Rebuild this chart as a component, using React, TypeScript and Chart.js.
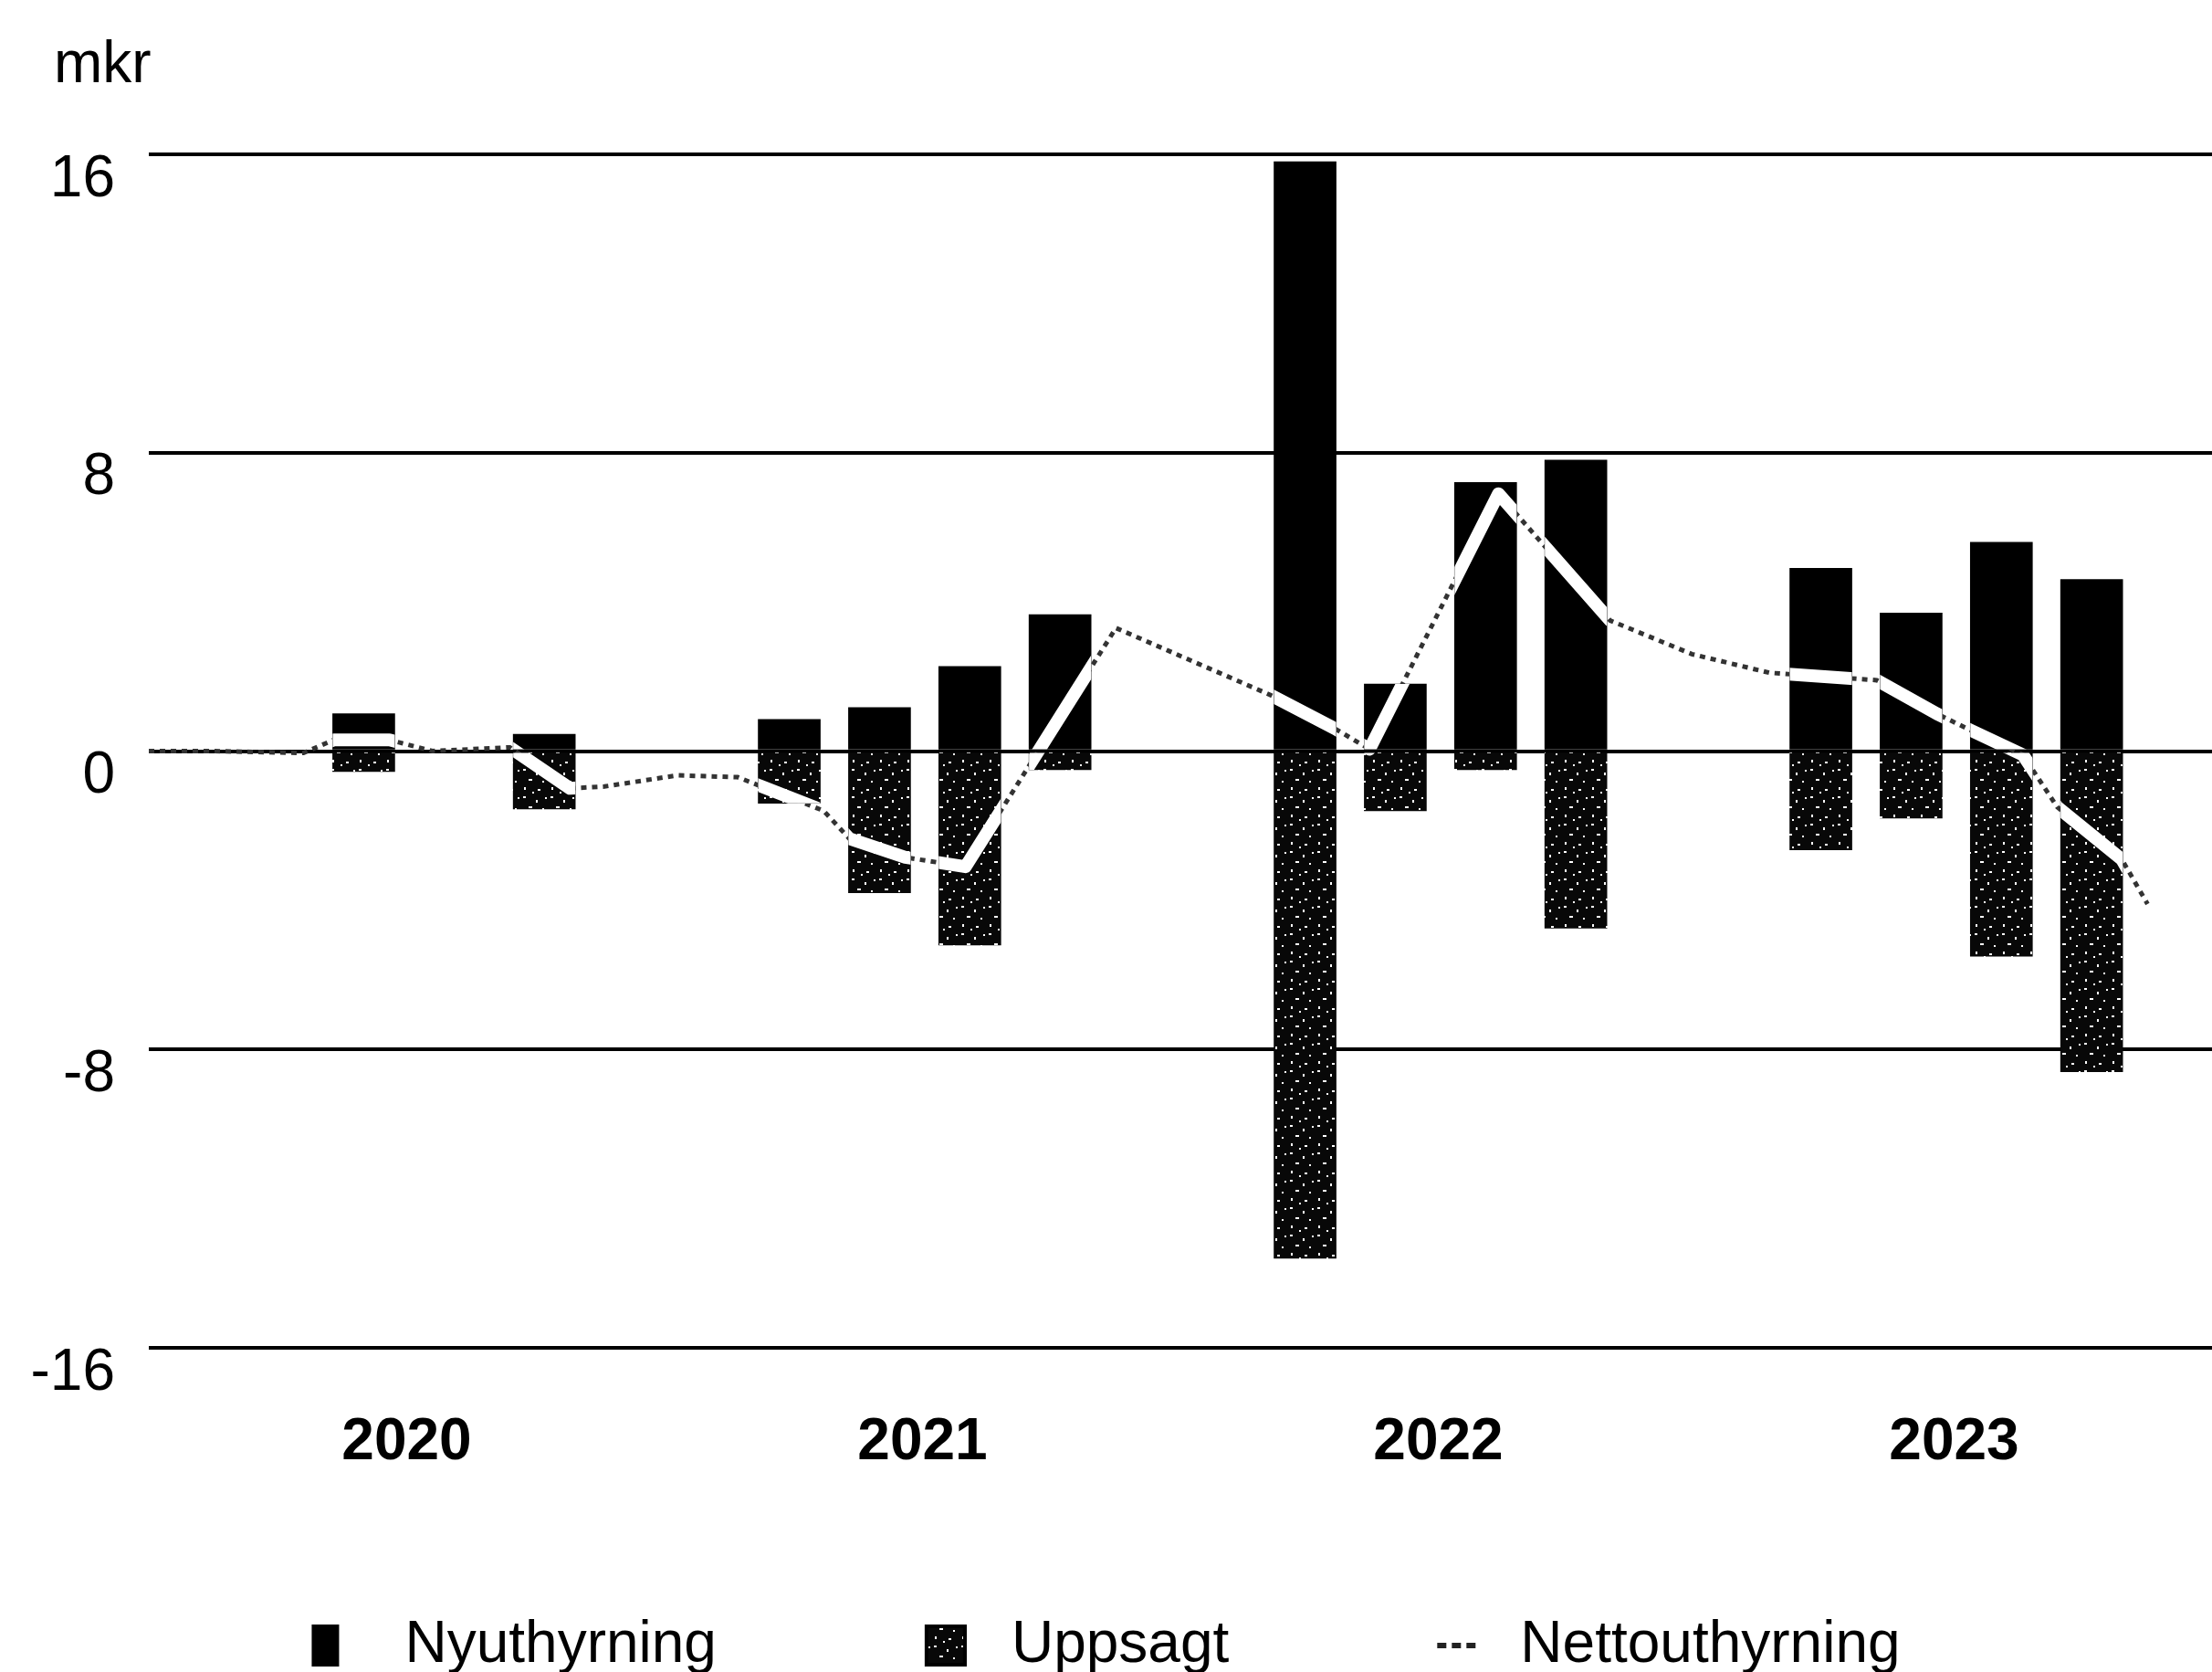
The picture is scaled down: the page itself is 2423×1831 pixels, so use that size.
import React, { useEffect, useRef } from 'react';
import { Chart, registerables } from 'chart.js';

Chart.register(...registerables);

// ---- data ----
const years = ['2020', '2021', '2022', '2023'];
// month within each year where the quarter's bar is placed
const quarterMonth = [2.9, 5.0, 7.1, 9.2];
const nyuthyrning = [null, 1.0, null, 0.45, 0.85, 1.17, 2.27, 3.66, 15.8, 1.8, 7.2, 7.8, 4.9, 3.7, 5.6, 4.6];
const uppsagt = [null, -0.55, null, -1.55, -1.4, -3.8, -5.2, -0.5, -13.6, -1.6, -0.5, -4.75, -2.65, -1.8, -5.5, -8.6];
// net line (month from start of 2020, value)
const nettoMonth = [0, 1.4, 3.6, 4.3, 5.6, 6.6, 8.4, 9.8, 10.6, 12.3, 13.7, 15.7, 16.3, 17.6, 19.0, 22.5, 26.1, 27.6, 28.4, 31.4, 32.7, 34.0, 35.9, 37.7, 40.2, 41.6, 42.4, 43.6, 44.4, 45.9, 46.5];
const nettoValue = [0, 0, -0.05, 0.3, 0.3, 0.0, 0.1, -1.0, -0.95, -0.65, -0.7, -1.6, -2.35, -2.85, -3.1, 3.3, 1.5, 0.6, 0.05, 6.9, 5.2, 3.5, 2.6, 2.1, 1.9, 1.0, 0.55, -0.1, -1.5, -2.9, -4.1];
const yTicks = [-16, -8, 0, 8, 16];
const yUnit = 'mkr';
const seriesNames = ['Nyuthyrning', 'Uppsagt', 'Nettouthyrning'];

const FONT = '"Liberation Sans", Arial, sans-serif';

function makeSpecklePattern(): CanvasPattern | string {
  const c = document.createElement('canvas');
  c.width = 30;
  c.height = 30;
  const g = c.getContext('2d');
  if (!g) return '#111';
  g.fillStyle = '#080808';
  g.fillRect(0, 0, 30, 30);
  g.fillStyle = '#ffffff';
  const blobs = [[3, 2, 3, 2], [17, 6, 2, 3], [9, 13, 4, 2], [24, 15, 2, 2], [4, 22, 2, 3], [19, 24, 3, 2], [13, 27, 2, 2], [27, 3, 2, 2]];
  blobs.forEach(([x, y, w, h]) => g.fillRect(x, y, w, h));
  const p = g.createPattern(c, 'repeat');
  return p || '#111';
}

export default function App() {
  const ref = useRef<HTMLCanvasElement | null>(null);

  useEffect(() => {
    if (!ref.current) return;
    const speckle = makeSpecklePattern();

    const barPoints = (vals: (number | null)[]) =>
      vals
        .map((v, i) => ({ x: Math.floor(i / 4) * 12 + quarterMonth[i % 4], y: v }))
        .filter((p) => p.y !== null);

    const netOverlay = {
      id: 'netOverlay',
      afterDatasetsDraw(chart: any) {
        const ctx = chart.ctx;
        const pts = chart.getDatasetMeta(2).data;
        ctx.save();
        ctx.beginPath();
        [0, 1].forEach((di) =>
          chart.getDatasetMeta(di).data.forEach((bar: any) => {
            const { x, y, base, width } = bar.getProps(['x', 'y', 'base', 'width'], true);
            if (!isFinite(y)) return;
            ctx.rect(x - width / 2, Math.min(y, base), width, Math.abs(base - y));
          })
        );
        ctx.clip();
        ctx.beginPath();
        pts.forEach((p: any, i: number) => (i ? ctx.lineTo(p.x, p.y) : ctx.moveTo(p.x, p.y)));
        ctx.strokeStyle = '#ffffff';
        ctx.lineWidth = 14;
        ctx.lineJoin = 'round';
        ctx.lineCap = 'round';
        ctx.stroke();
        ctx.restore();
      },
    };

    const unitAndLegend = {
      id: 'unitAndLegend',
      afterDraw(chart: any) {
        const { ctx, chartArea, width, height } = chart;
        ctx.save();
        ctx.font = `64px ${FONT}`;
        ctx.fillStyle = '#000';
        ctx.textAlign = 'left';
        ctx.textBaseline = 'alphabetic';
        ctx.fillText(yUnit, chartArea.left - 104, chartArea.top - 79);

        // legend
        const iconW = [30, 46, 48];
        const iconGap = [72, 49, 43];
        const itemGap = 228;
        const textW = seriesNames.map((t) => ctx.measureText(t).width);
        const total = seriesNames.reduce((s, _, i) => s + iconW[i] + iconGap[i] + textW[i], 0) + itemGap * (seriesNames.length - 1);
        let x = width / 2 - total / 2;
        const cy = height - 29;
        seriesNames.forEach((name, i) => {
          if (i === 0) {
            ctx.fillStyle = '#000';
            ctx.fillRect(x, cy - 23, iconW[0], 46);
          } else if (i === 1) {
            ctx.fillStyle = speckle as any;
            ctx.fillRect(x, cy - 23, iconW[1], 46);
            ctx.strokeStyle = '#000';
            ctx.lineWidth = 4;
            ctx.strokeRect(x + 2, cy - 21, iconW[1] - 4, 42);
          } else {
            ctx.strokeStyle = '#222';
            ctx.lineWidth = 6;
            ctx.setLineDash([10, 6]);
            ctx.beginPath();
            ctx.moveTo(x, cy);
            ctx.lineTo(x + iconW[2], cy);
            ctx.stroke();
            ctx.setLineDash([]);
          }
          x += iconW[i] + iconGap[i];
          ctx.fillStyle = '#000';
          ctx.textBaseline = 'middle';
          ctx.fillText(name, x, cy);
          x += textW[i] + itemGap;
        });
        ctx.restore();
      },
    };

    const chart = new Chart(ref.current, {
      type: 'bar',
      data: {
        datasets: [
          {
            type: 'bar',
            label: seriesNames[0],
            data: barPoints(nyuthyrning) as any,
            backgroundColor: '#000',
            borderWidth: 0,
            barThickness: 68,
            grouped: false,
            order: 2,
          } as any,
          {
            type: 'bar',
            label: seriesNames[1],
            data: barPoints(uppsagt) as any,
            backgroundColor: speckle,
            borderWidth: 0,
            barThickness: 68,
            grouped: false,
            order: 2,
          } as any,
          {
            type: 'line',
            label: seriesNames[2],
            data: nettoMonth.map((m, i) => ({ x: m, y: nettoValue[i] })) as any,
            borderColor: '#333',
            backgroundColor: '#333',
            borderWidth: 5,
            borderDash: [6, 6],
            pointRadius: 0,
            tension: 0,
            fill: false,
            order: 1,
          } as any,
        ],
      },
      options: {
        animation: false,
        responsive: false,
        maintainAspectRatio: false,
        layout: { padding: { left: 33, top: 169, right: 0, bottom: 212 } },
        scales: {
          x: {
            type: 'linear',
            min: 0,
            max: 48,
            offset: false,
            grid: { display: false, drawTicks: false, offset: false },
            border: { display: false },
            afterBuildTicks: (axis: any) => {
              axis.ticks = years.map((_, i) => ({ value: i * 12 + 6 }));
            },
            afterFit: (axis: any) => {
              axis.paddingLeft = 0;
              axis.paddingRight = 0;
              axis.height = 143;
            },
            ticks: {
              autoSkip: false,
              maxRotation: 0,
              padding: 66,
              color: '#000',
              font: { family: FONT, size: 64, weight: 'bold' },
              callback: (v: any) => years[Math.round((Number(v) - 6) / 12)] ?? '',
            },
          },
          y: {
            min: -16,
            max: 16,
            afterBuildTicks: (axis: any) => {
              axis.ticks = yTicks.map((v) => ({ value: v }));
            },
            afterFit: (axis: any) => {
              axis.width = 130;
              axis.paddingTop = 0;
              axis.paddingBottom = 0;
            },
            grid: { color: '#000', lineWidth: 4, drawTicks: false },
            border: { display: false },
            ticks: {
              padding: 37,
              labelOffset: 28,
              color: '#000',
              font: { family: FONT, size: 64 },
            },
          },
        },
        plugins: {
          tooltip: { enabled: false },
          title: { display: false },
          legend: { display: false },
        },
      } as any,
      plugins: [netOverlay, unitAndLegend],
    });

    return () => chart.destroy();
  }, []);

  return (
    <div style={{ position: 'absolute', left: 0, top: 0, width: 2423, height: 1831, background: '#fff' }}>
      <canvas ref={ref} width={2423} height={1831} style={{ display: 'block' }} />
    </div>
  );
}
